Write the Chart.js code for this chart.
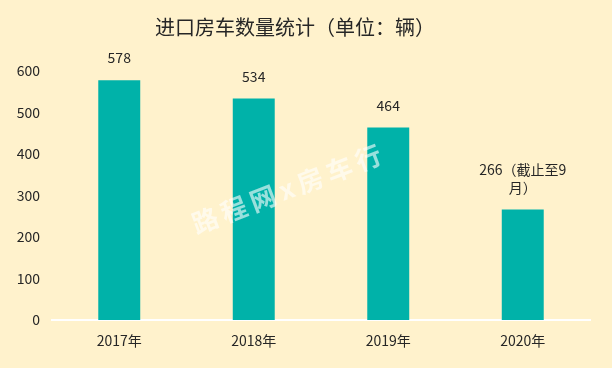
<!DOCTYPE html>
<html>
<head>
<meta charset="utf-8">
<script src="https://cdn.jsdelivr.net/npm/chart.js@4/dist/chart.umd.min.js"></script>
<style>
html,body{margin:0;padding:0;background:#FFF2CC;}
#wrap{width:612px;height:368px;}
canvas{text-spacing-trim:space-all;}
</style>
</head>
<body>
<div id="wrap"><canvas id="c" width="612" height="368"></canvas></div>
<script>
const categories = ['2017年', '2018年', '2019年', '2020年'];
const values = [578, 534, 464, 266];
const valueLabels = [['578'], ['534'], ['464'], ['266（截止至9', '月）']];
const chartTitle = '进口房车数量统计（单位：辆）';
const watermark = '路程网x房车行';

const FONT = '"Noto Sans CJK SC", "Noto Sans", sans-serif';

const bgPlugin = {
  id: 'bg',
  beforeDraw(chart) {
    const ctx = chart.ctx;
    ctx.save();
    ctx.fillStyle = '#FFF2CC';
    ctx.fillRect(0, 0, chart.width, chart.height);
    ctx.restore();
  }
};

const labelPlugin = {
  id: 'valLabels',
  afterDatasetsDraw(chart) {
    const ctx = chart.ctx;
    const meta = chart.getDatasetMeta(0);
    ctx.save();
    ctx.font = '14px ' + FONT;
    ctx.fillStyle = '#262626';
    ctx.textAlign = 'center';
    ctx.textBaseline = 'middle';
    meta.data.forEach((bar, i) => {
      const lines = valueLabels[i];
      const lh = 18;
      const n = lines.length;
      lines.forEach((t, j) => {
        const y = bar.y - 22 - (n - 1 - j) * lh;
        ctx.fillText(t, bar.x, y);
      });
    });
    ctx.restore();
  },
  afterDraw(chart) {
    const ctx = chart.ctx;
    ctx.save();
    ctx.translate(287, 189);
    ctx.rotate(-21 * Math.PI / 180);
    ctx.font = 'bold 26px ' + FONT;
    try { ctx.letterSpacing = '5px'; } catch (e) {}
    ctx.fillStyle = 'rgba(255,255,255,0.6)';
    ctx.textAlign = 'center';
    ctx.textBaseline = 'middle';
    ctx.fillText(watermark, 2, 0);
    ctx.restore();
  }
};

new Chart(document.getElementById('c'), {
  type: 'bar',
  data: {
    labels: categories,
    datasets: [{
      data: values,
      backgroundColor: '#00B2A9',
      borderWidth: 0,
      categoryPercentage: 1,
      barPercentage: 0.312
    }]
  },
  options: {
    responsive: false,
    animation: false,
    devicePixelRatio: 1,
    layout: { padding: { left: 0, right: 22, top: 0, bottom: 0 } },
    plugins: {
      legend: { display: false },
      tooltip: { enabled: false },
      title: {
        display: true,
        text: chartTitle,
        color: '#262626',
        font: { family: FONT, size: 20, weight: 'normal' },
        padding: { top: 15, bottom: 32 }
      }
    },
    scales: {
      x: {
        grid: { display: false, drawTicks: false },
        border: { display: true, color: '#FFFFFF', width: 2 },
        ticks: { color: '#262626', font: { family: FONT, size: 14 }, padding: 12 },
        afterFit(scale) { scale.height = 48; }
      },
      y: {
        min: 0, max: 600,
        grid: { display: false, drawTicks: false },
        border: { display: false },
        ticks: { stepSize: 100, color: '#262626', font: { family: FONT, size: 14 }, padding: 12 },
        afterFit(scale) { scale.width = 52; }
      }
    }
  },
  plugins: [bgPlugin, labelPlugin]
});
</script>
</body>
</html>
